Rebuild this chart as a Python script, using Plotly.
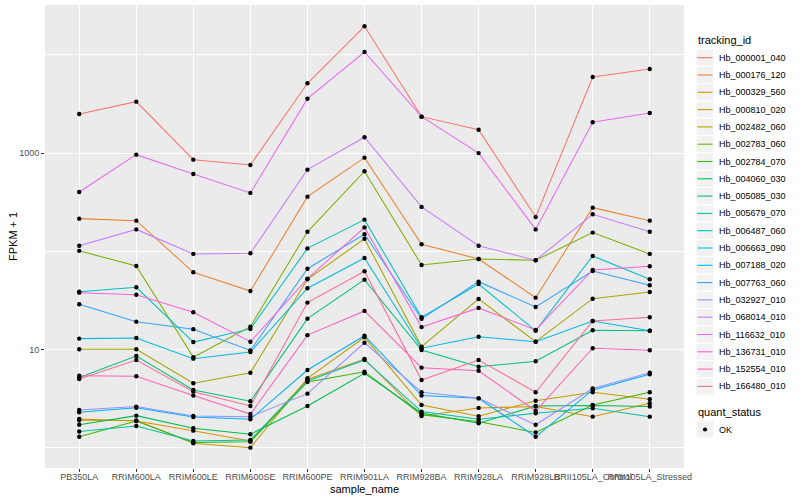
import plotly.graph_objects as go

# ---------------- data (FPKM + 1) ----------------
samples = ["PB350LA", "RRIM600LA", "RRIM600LE", "RRIM600SE", "RRIM600PE",
           "RRIM901LA", "RRIM928BA", "RRIM928LA", "RRIM928LB",
           "RRII105LA_Control", "RRII105LA_Stressed"]

tracking_ids = ["Hb_000001_040", "Hb_000176_120", "Hb_000329_560", "Hb_000810_020",
                "Hb_002482_060", "Hb_002783_060", "Hb_002784_070", "Hb_004060_030",
                "Hb_005085_030", "Hb_005679_070", "Hb_006487_060", "Hb_006663_090",
                "Hb_007188_020", "Hb_007763_060", "Hb_032927_010", "Hb_068014_010",
                "Hb_116632_010", "Hb_136731_010", "Hb_152554_010", "Hb_166480_010"]

Hb_000001_040 = [2500, 3340, 857, 757, 5140, 19550, 2350, 1730, 223, 5960, 7180]
Hb_000176_120 = [215, 205, 61.1, 39.4, 360, 898, 118, 83.5, 33.7, 278, 205]
Hb_000329_560 = [1.96, 1.87, 1.49, 1.17, 4.95, 8.0, 2.10, 2.54, 2.63, 2.07, 2.83]
Hb_000810_020 = [1.90, 1.89, 1.11, 1.00, 5.09, 13.3, 2.72, 2.09, 3.01, 3.67, 3.11]
Hb_002482_060 = [10.05, 10.05, 4.53, 5.80, 51.9, 134, 10.7, 32.7, 12.0, 32.9, 38.5]
Hb_002783_060 = [101, 70.8, 8.33, 17.1, 158, 653, 72.5, 83.5, 81, 155, 93.9]
Hb_002784_070 = [1.29, 1.87, 1.13, 1.15, 4.67, 5.94, 2.17, 1.84, 1.43, 2.72, 3.67]
Hb_004060_030 = [1.71, 2.12, 1.58, 1.37, 2.66, 5.72, 2.26, 1.77, 2.66, 2.69, 2.62]
Hb_005085_030 = [5.19, 8.58, 3.87, 2.97, 20.6, 51.4, 9.88, 6.68, 7.58, 15.7, 15.5]
Hb_005679_070 = [1.46, 1.66, 1.17, 1.20, 4.78, 7.82, 2.33, 1.95, 2.24, 2.52, 2.07]
Hb_006487_060 = [38.8, 43.0, 11.9, 16.2, 107, 210, 21.3, 46.4, 15.5, 89.6, 51.9]
Hb_006663_090 = [12.9, 13.1, 8.06, 9.43, 42.0, 85.5, 10.3, 13.5, 12.0, 19.5, 15.5]
Hb_007188_020 = [2.29, 2.55, 2.05, 1.95, 6.18, 13.8, 3.39, 3.18, 1.29, 3.87, 5.59]
Hb_007763_060 = [28.9, 19.2, 16.1, 9.77, 66.5, 149, 20.5, 49.0, 27.1, 63.0, 45.1]
Hb_032927_010 = [2.42, 2.62, 2.10, 2.07, 3.55, 11.7, 3.67, 3.18, 1.71, 4.01, 5.80]
Hb_068014_010 = [114, 167, 93.9, 95.5, 678, 1450, 283, 114, 81, 238, 158]
Hb_116632_010 = [402, 964, 612, 393, 3580, 10700, 2350, 1000, 167, 2060, 2560]
Hb_136731_010 = [37.9, 36.1, 23.9, 12.0, 52.6, 175, 16.9, 26.5, 15.8, 64.5, 70.3]
Hb_152554_010 = [5.41, 5.33, 3.39, 2.20, 14.0, 24.7, 6.53, 6.08, 2.36, 10.3, 9.81]
Hb_166480_010 = [5.01, 7.82, 3.72, 2.66, 30.0, 62.5, 4.89, 7.82, 3.67, 19.5, 21.3]

series_values = [Hb_000001_040, Hb_000176_120, Hb_000329_560, Hb_000810_020,
                 Hb_002482_060, Hb_002783_060, Hb_002784_070, Hb_004060_030,
                 Hb_005085_030, Hb_005679_070, Hb_006487_060, Hb_006663_090,
                 Hb_007188_020, Hb_007763_060, Hb_032927_010, Hb_068014_010,
                 Hb_116632_010, Hb_136731_010, Hb_152554_010, Hb_166480_010]

quant_status = ["OK"]

y_tick_values = [10, 1000]
y_tick_labels = ["10", "1000"]
y_minor_values = [1, 100, 10000]

# ---------------- styling ----------------
colors = ["#F8766D", "#EA8331", "#D89000", "#C09B00", "#A3A500", "#7CAE00",
          "#39B600", "#00BB4E", "#00BF7D", "#00C1A3", "#00BFC4", "#00BAE0",
          "#00B0F6", "#35A2FF", "#9590FF", "#C77CFF", "#E76BF3", "#FA62DB",
          "#FF62BC", "#FF6C91"]

FONT = "Liberation Sans, Arial, Helvetica, sans-serif"
W, H = 800, 500
ML, MR, MT, MB = 45, 116, 5, 32
PW, PH = W - ML - MR, H - MT - MB


def px_x(p):
    return (p - ML) / PW


def px_y(p):
    return (H - MB - p) / PH


fig = go.Figure()

# lines (one per tracking_id)
for name, vals, col in zip(tracking_ids, series_values, colors):
    fig.add_trace(go.Scatter(x=samples, y=vals, mode="lines", name=name,
                             line=dict(color=col, width=1.05),
                             showlegend=False, hoverinfo="skip"))
# points on top
for name, vals in zip(tracking_ids, series_values):
    fig.add_trace(go.Scatter(x=samples, y=vals, mode="markers", name=name,
                             marker=dict(color="black", size=4.4),
                             showlegend=False))

# ---------------- manual ggplot-like legend ----------------
shapes = []
annotations = []
annotations.append(dict(text="tracking_id", x=px_x(696), y=px_y(40.5), xref="paper", yref="paper",
                        xanchor="left", yanchor="middle", showarrow=False,
                        font=dict(family=FONT, size=11, color="black")))
step = 17.3
first = 57.7
for i, (name, col) in enumerate(zip(tracking_ids, colors)):
    cy = first + i * step
    shapes.append(dict(type="rect", xref="paper", yref="paper",
                       x0=px_x(696.5), x1=px_x(713.5), y0=px_y(cy - 8.1), y1=px_y(cy + 8.1),
                       fillcolor="#F2F2F2", line=dict(width=0), layer="above"))
    shapes.append(dict(type="line", xref="paper", yref="paper",
                       x0=px_x(697.5), x1=px_x(712.5), y0=px_y(cy), y1=px_y(cy),
                       line=dict(color=col, width=1.1), layer="above"))
    annotations.append(dict(text=name, x=px_x(716.5), y=px_y(cy), xref="paper", yref="paper",
                            xanchor="left", yanchor="middle", showarrow=False,
                            font=dict(family=FONT, size=9, color="black")))

annotations.append(dict(text="quant_status", x=px_x(696), y=px_y(411.5), xref="paper", yref="paper",
                        xanchor="left", yanchor="middle", showarrow=False,
                        font=dict(family=FONT, size=11, color="black")))
ok_cy = 429.5
shapes.append(dict(type="rect", xref="paper", yref="paper",
                   x0=px_x(696.5), x1=px_x(713.5), y0=px_y(ok_cy - 8.1), y1=px_y(ok_cy + 8.1),
                   fillcolor="#F2F2F2", line=dict(width=0), layer="above"))
shapes.append(dict(type="circle", xref="paper", yref="paper", xsizemode="pixel", ysizemode="pixel",
                   xanchor=px_x(705), yanchor=px_y(ok_cy), x0=-2.1, x1=2.1, y0=-2.1, y1=2.1,
                   fillcolor="black", line=dict(width=0), layer="above"))
annotations.append(dict(text=quant_status[0], x=px_x(716.5), y=px_y(ok_cy), xref="paper", yref="paper",
                        xanchor="left", yanchor="middle", showarrow=False,
                        font=dict(family=FONT, size=9, color="black")))

# axis titles
annotations.append(dict(text="sample_name", x=px_x(364.5), y=px_y(489), xref="paper", yref="paper",
                        xanchor="center", yanchor="middle", showarrow=False,
                        font=dict(family=FONT, size=11, color="black")))
annotations.append(dict(text="FPKM + 1", x=px_x(13), y=px_y(237), xref="paper", yref="paper",
                        xanchor="center", yanchor="middle", showarrow=False, textangle=-90,
                        font=dict(family=FONT, size=11, color="black")))

fig.update_layout(
    width=W, height=H,
    margin=dict(l=ML, r=MR, t=MT, b=MB, autoexpand=False),
    paper_bgcolor="white", plot_bgcolor="#EBEBEB",
    showlegend=False,
    font=dict(family=FONT, size=9, color="#4D4D4D"),
    shapes=shapes, annotations=annotations,
    xaxis=dict(type="category", categoryorder="array", categoryarray=samples,
               range=[-0.6, len(samples) - 0.4],
               showgrid=True, gridcolor="white", gridwidth=1.1,
               zeroline=False, showline=False,
               ticks="outside", ticklen=3, tickwidth=1, tickcolor="#333333",
               ticklabelstandoff=-3,
               tickangle=0, tickfont=dict(family=FONT, size=9, color="#4D4D4D")),
    yaxis=dict(type="log", range=[-0.207, 4.508],
               tickmode="array", tickvals=y_tick_values, ticktext=y_tick_labels,
               showgrid=True, gridcolor="white", gridwidth=1.1,
               minor=dict(tickmode="array", tickvals=y_minor_values, showgrid=True,
                          gridcolor="white", gridwidth=0.55, ticks=""),
               zeroline=False, showline=False,
               ticks="outside", ticklen=3, tickwidth=1, tickcolor="#333333",
               tickfont=dict(family=FONT, size=9, color="#4D4D4D")),
)

fig.write_html("out.html",
               config={"displayModeBar": False},
               post_script="document.body.style.margin='0';document.body.style.padding='0';"
                           "document.body.style.overflow='hidden';")
